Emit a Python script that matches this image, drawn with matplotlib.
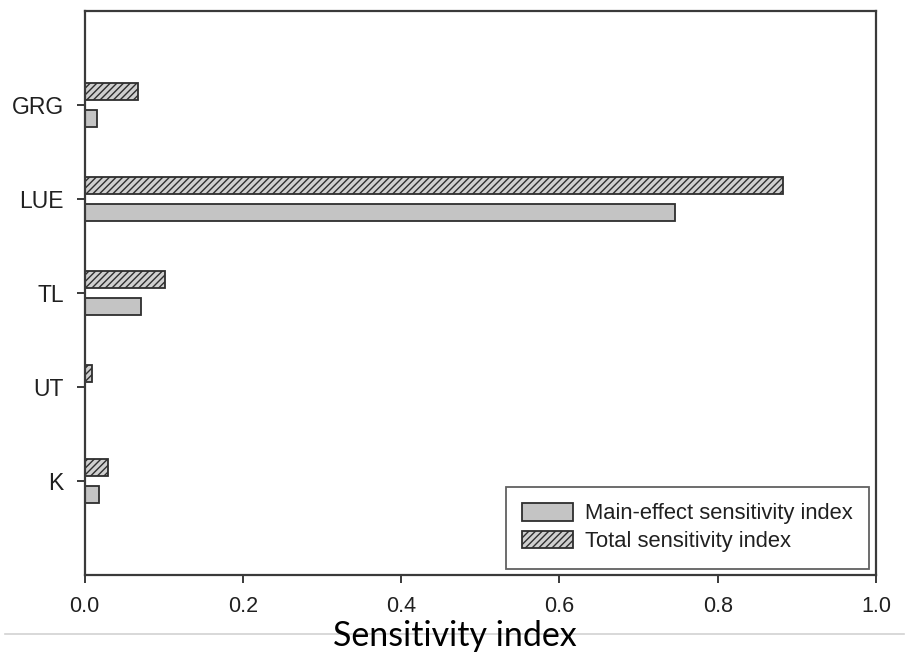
import matplotlib
matplotlib.use('Agg')

import matplotlib.pyplot as plt
import numpy             as np
from matplotlib.lines import Line2D


# parameters, bottom to top as drawn on the y axis
params      = ['K', 'UT', 'TL', 'LUE', 'GRG']
main_index  = [0.018, 0.0, 0.071, 0.746, 0.016]
total_index = [0.030, 0.010, 0.102, 0.882, 0.068]

xticks = [0.0, 0.2, 0.4, 0.6, 0.8, 1.0]

edge   = '#2e2e2e'
spine  = '#3a3a3a'
txtcol = '#202020'

plt.rcParams['font.family'] = ['Liberation Sans', 'DejaVu Sans']
plt.rcParams['hatch.color'] = edge
plt.rcParams['hatch.linewidth'] = 1.0

fig = plt.figure(figsize=(9.09, 6.56), dpi=100)
ax  = fig.add_axes([0.093, 0.1235, 0.8707, 0.8598])

pos = np.arange(1, len(params) + 1)
h   = 0.18
off = 0.147

ax.barh(pos - off, main_index, height=h, color='#c4c4c4', edgecolor=edge,
        linewidth=1.3, label='Main-effect sensitivity index')
ax.barh(pos + off, total_index, height=h, color='#cfcfcf', edgecolor=edge,
        linewidth=1.3, hatch='/////', label='Total sensitivity index')

ax.set_xlim(0, 1.0)
ax.set_ylim(0, 6)
ax.set_xticks(xticks)
ax.set_xticklabels(['%.1f' % t for t in xticks])
ax.set_yticks(pos)
ax.set_yticklabels(params)

for s in ax.spines.values():
    s.set_color(spine)
    s.set_linewidth(1.6)

ax.tick_params(axis='x', direction='out', length=6, width=1.4, color=spine,
               labelsize=15.5, labelcolor=txtcol, pad=9, top=False)
ax.tick_params(axis='y', direction='out', length=6, width=1.4, color=spine,
               labelsize=16.5, labelcolor=txtcol, pad=9, right=False)

leg = ax.legend(loc='lower right', fontsize=15.8, frameon=True, fancybox=False,
                handlelength=2.3, handleheight=0.85, handletextpad=0.55,
                borderpad=0.75, labelspacing=0.3, borderaxespad=0,
                bbox_to_anchor=(0.991, 0.011))
leg.get_frame().set_edgecolor(spine)
leg.get_frame().set_linewidth(1.3)
for t in leg.get_texts():
    t.set_color(txtcol)

# thin rule under the tick labels
fig.add_artist(Line2D([0.006, 0.995], [0.0335, 0.0335],
                      transform=fig.transFigure, color='#d2d2d2', lw=1.2))

fig.text(0.5, 0.031, 'Sensitivity index', ha='center', va='center',
         fontsize=24.5, color='black', family=['Lato', 'DejaVu Sans'])

fig.savefig('out.png', dpi=100)
